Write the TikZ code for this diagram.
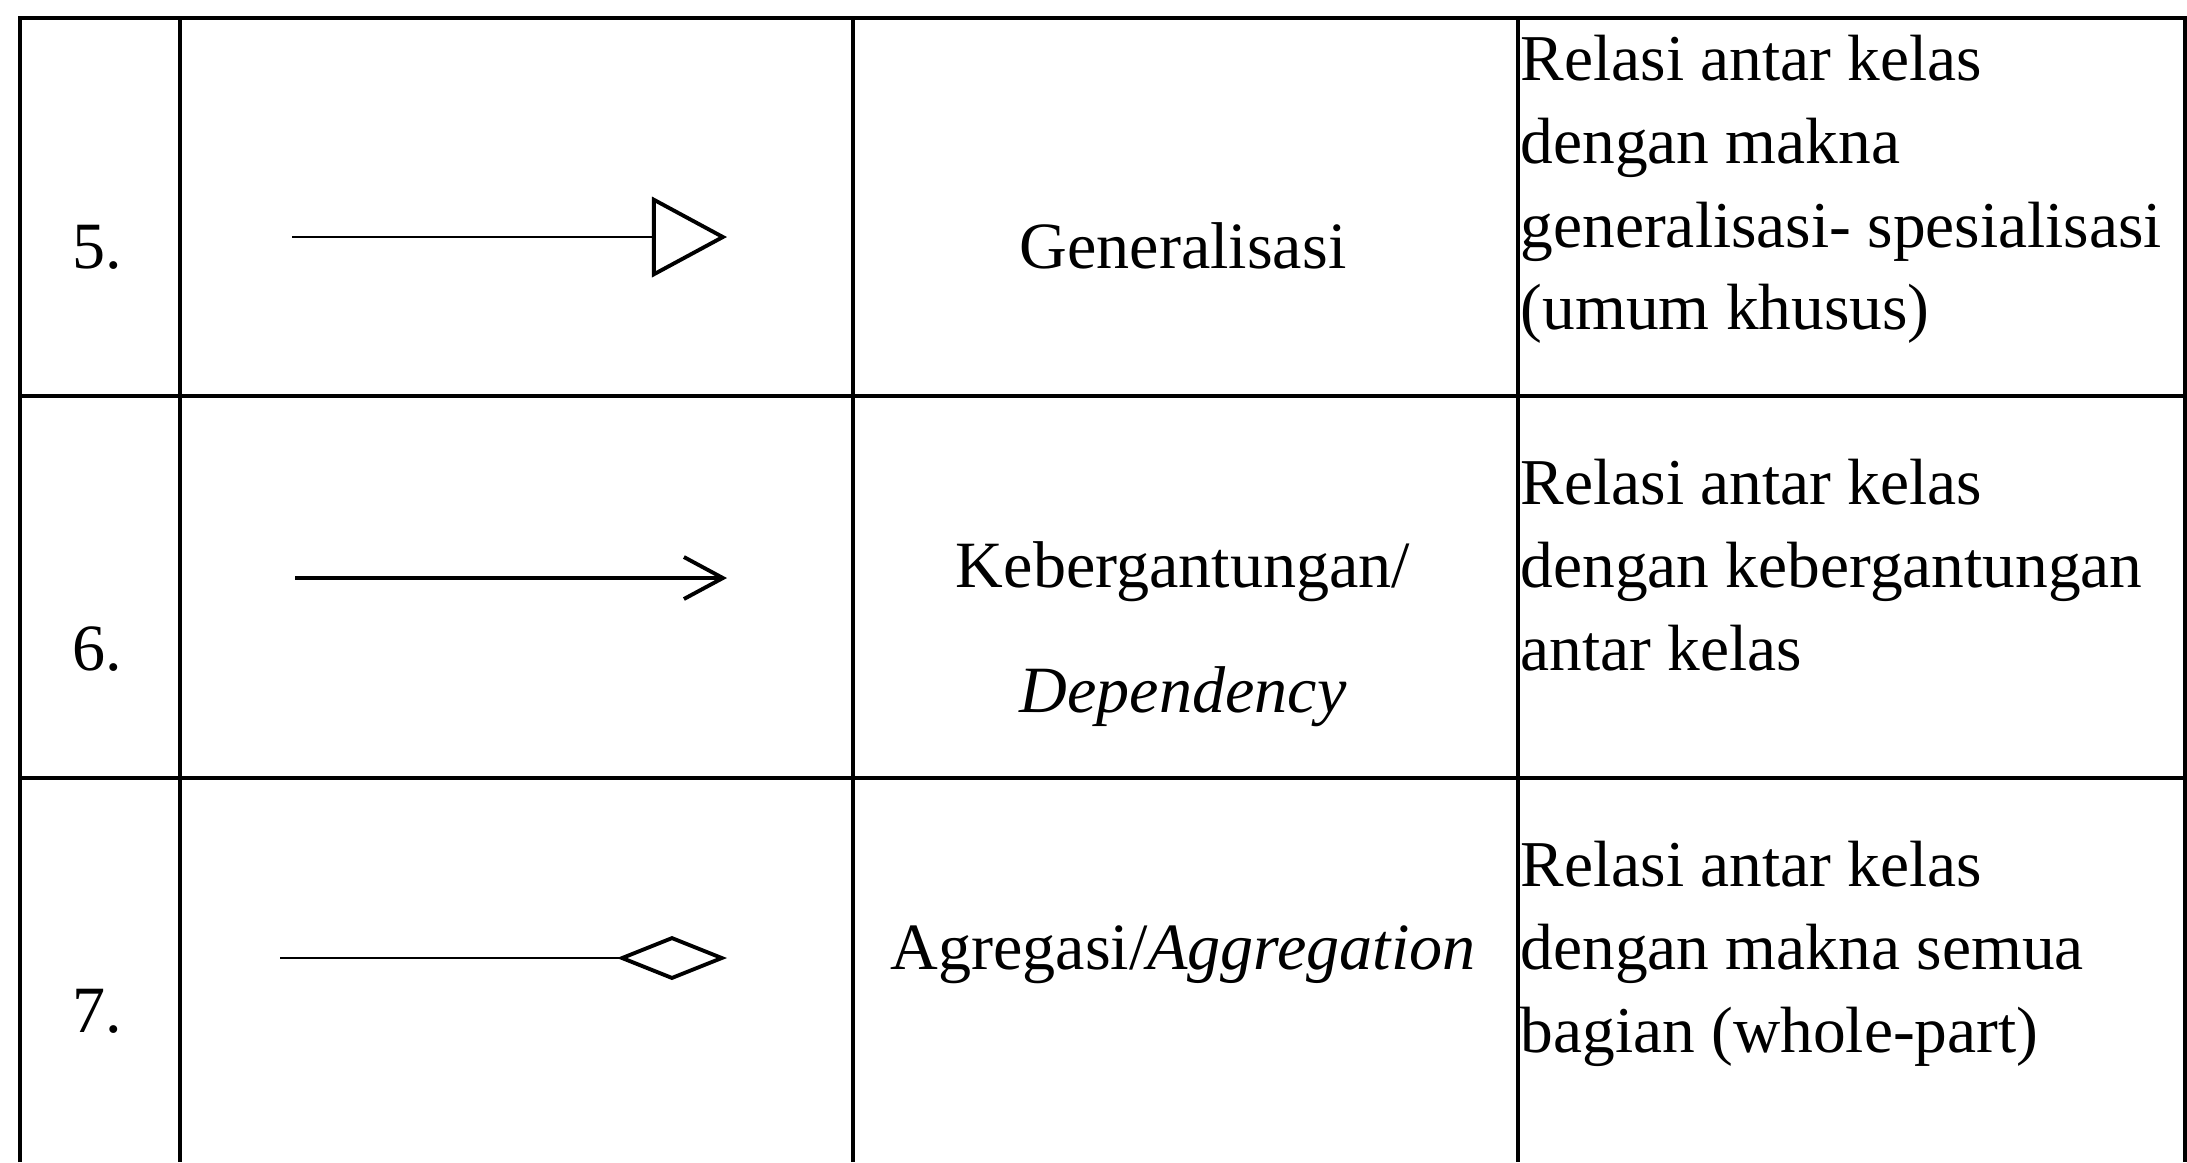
\documentclass[tikz,border=0pt]{standalone}
\usepackage{fontspec}
\setmainfont{Liberation Serif}
\usetikzlibrary{arrows.meta}

\tikzset{
  grid line/.style={line width=1.4pt},
  numcell/.style={anchor=base,inner sep=0pt,font=\fontsize{18.8}{23.6}\selectfont},
  namecell/.style={anchor=base,inner sep=0pt,font=\fontsize{18.8}{23.6}\selectfont},
  desccell/.style={anchor=base west,inner sep=0pt,font=\fontsize{18.6}{23.6}\selectfont},
}

\begin{document}
\begin{tikzpicture}[x=0.01cm,y=-0.01cm]
            \useasboundingbox (0,0) rectangle (2187,1162);
            % Table grid
            \draw[grid line] (20,1162) -- (20,18) -- (2185,18) -- (2185,1162);
            \draw[grid line] (180,18) -- (180,1162);
            \draw[grid line] (853,18) -- (853,1162);
            \draw[grid line] (1518,18) -- (1518,1162);
            \draw[grid line] (20,396) -- (2185,396);
            \draw[grid line] (20,778) -- (2185,778);

            % Row 5: Generalisasi
            \node[numcell] (no5) at (97,268) {5.};
            \coordinate (gen-from) at (292,237);
            \coordinate (gen-to) at (727,237);
            \draw[line width=0.6pt,-{Triangle[open,length=0.75cm,width=0.8cm,line width=1.1pt]}] (gen-from) -- (gen-to);
            \node[namecell] (gen) at (1183,268) {Generalisasi};
            \node[desccell] (gen-d1) at (1520,80) {Relasi antar kelas};
            \node[desccell] (gen-d2) at (1520,163) {dengan makna};
            \node[desccell] (gen-d3) at (1520,247) {generalisasi- spesialisasi};
            \node[desccell] (gen-d4) at (1520,329) {(umum khusus)};

            % Row 6: Dependency
            \node[numcell] (no6) at (97,670) {6.};
            \coordinate (dep-from) at (295,578);
            \coordinate (dep-to) at (727,578);
            \draw[line width=1.1pt,-{Straight Barb[length=0.39cm,width=0.42cm]}] (dep-from) -- (dep-to);
            \node[namecell] (dep1) at (1183,587) {Kebergantungan/};
            \node[namecell] (dep2) at (1183,712) {\textit{Dependency}};
            \node[desccell] (dep-d1) at (1520,504) {Relasi antar kelas};
            \node[desccell] (dep-d2) at (1520,587) {dengan kebergantungan};
            \node[desccell] (dep-d3) at (1520,670) {antar kelas};

            % Row 7: Aggregation
            \node[numcell] (no7) at (97,1032) {7.};
            \coordinate (agg-from) at (280,958);
            \coordinate (agg-to) at (727,958);
            \draw[line width=0.6pt,-{Diamond[open,length=1.1cm,width=0.44cm,line width=1.1pt]}] (agg-from) -- (agg-to);
            \node[namecell] (agg) at (1183,969) {Agregasi/\textit{Aggregation}};
            \node[desccell] (agg-d1) at (1520,886) {Relasi antar kelas};
            \node[desccell] (agg-d2) at (1520,969) {dengan makna semua};
            \node[desccell] (agg-d3) at (1520,1052) {bagian (whole-part)};
\end{tikzpicture}
\end{document}
